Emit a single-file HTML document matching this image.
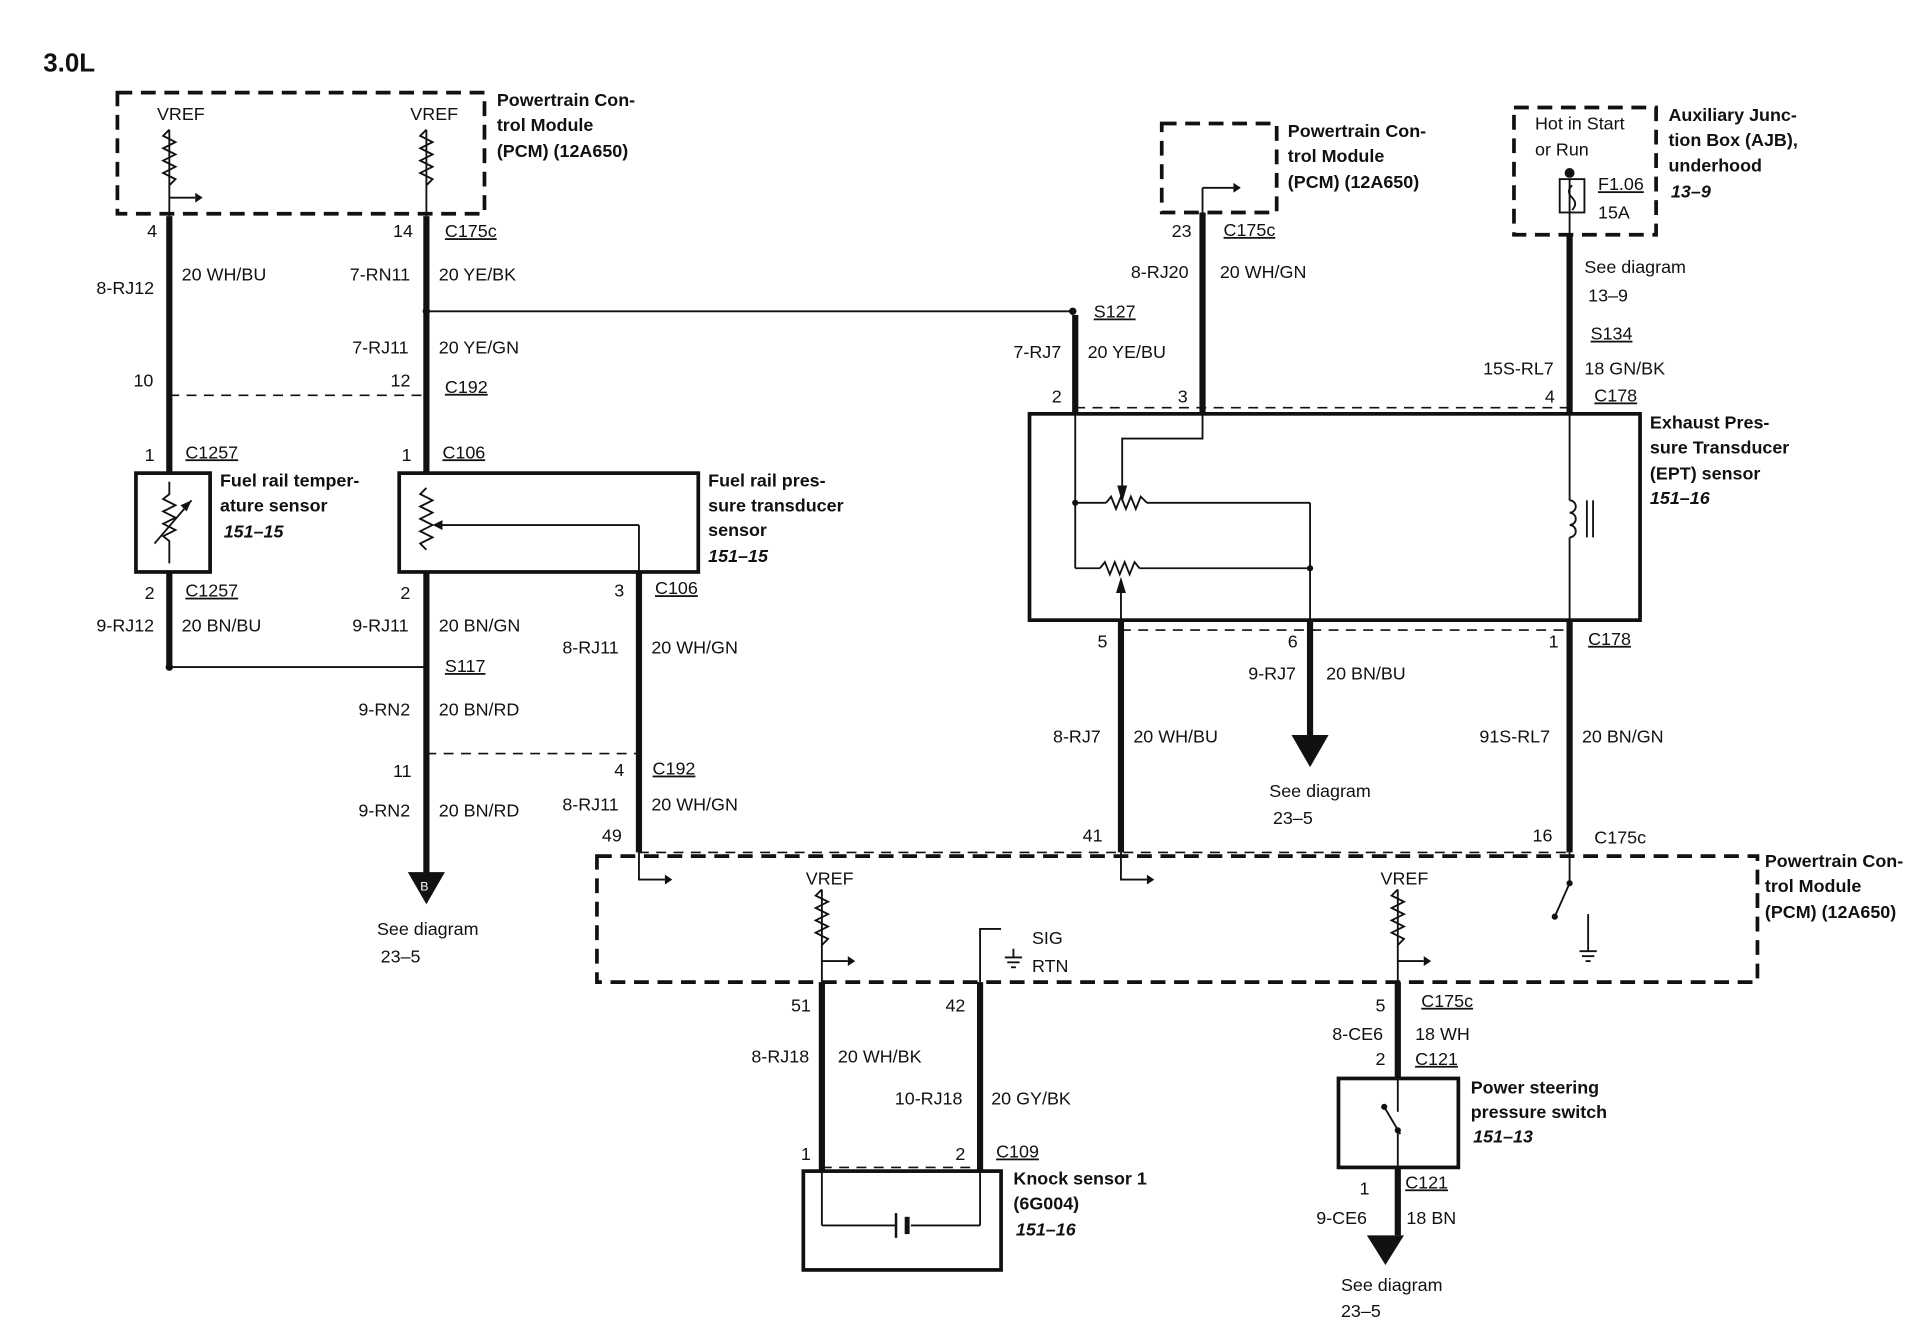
<!DOCTYPE html>
<html><head><meta charset="utf-8"><style>
html,body{margin:0;padding:0;background:#fff}
svg{display:block}
text{font-family:"Liberation Sans",Arial,sans-serif;font-size:14.5px;fill:#111}
.b{font-weight:bold}
.i{font-weight:bold;font-style:italic}
.u{text-decoration:underline}
</style></head><body>
<svg width="1928" height="1328" viewBox="0 0 1560 1075" preserveAspectRatio="none" xmlns="http://www.w3.org/2000/svg">
<g fill="none" stroke="#111">
<g stroke-width="3" stroke-dasharray="12,7">
<rect x="95" y="75" width="297" height="98"/>
<rect x="940" y="100" width="93" height="72"/>
<rect x="1225" y="87" width="115" height="103"/>
<rect x="483" y="693" width="939" height="102"/>
</g>
<g stroke-width="1.3" stroke-dasharray="8,6">
<line x1="137" y1="320" x2="345" y2="320"/>
<line x1="345" y1="610" x2="517" y2="610"/>
<line x1="517" y1="690" x2="1270" y2="690"/>
<line x1="870" y1="330" x2="1270" y2="330"/>
<line x1="907" y1="510" x2="1270" y2="510"/>
<line x1="665" y1="945" x2="793" y2="945"/>
</g>
<g stroke-width="5">
<line x1="137" y1="175" x2="137" y2="383"/>
<line x1="345" y1="175" x2="345" y2="383"/>
<line x1="137" y1="463" x2="137" y2="540"/>
<line x1="345" y1="463" x2="345" y2="708"/>
<line x1="517" y1="463" x2="517" y2="690"/>
<line x1="973" y1="172" x2="973" y2="335"/>
<line x1="870" y1="255" x2="870" y2="335"/>
<line x1="1270" y1="190" x2="1270" y2="335"/>
<line x1="907" y1="502" x2="907" y2="690"/>
<line x1="1060" y1="502" x2="1060" y2="597"/>
<line x1="1270" y1="502" x2="1270" y2="690"/>
<line x1="665" y1="795" x2="665" y2="948"/>
<line x1="793" y1="795" x2="793" y2="948"/>
<line x1="1131" y1="795" x2="1131" y2="873"/>
<line x1="1131" y1="945" x2="1131" y2="1000"/>
</g>
<g stroke-width="1.5">
<line x1="137" y1="105" x2="137" y2="175"/>
<line x1="345" y1="105" x2="345" y2="175"/>
<line x1="137" y1="160" x2="158" y2="160"/>
<line x1="345" y1="252" x2="868" y2="252"/>
<line x1="137" y1="540" x2="345" y2="540"/>
<line x1="517" y1="425" x2="517" y2="463"/>
<line x1="355" y1="425" x2="517" y2="425"/>
<line x1="973" y1="172" x2="973" y2="152"/><line x1="973" y1="152" x2="998" y2="152"/>
<line x1="1270" y1="145" x2="1270" y2="190"/>
<line x1="870" y1="335" x2="870" y2="460"/>
<line x1="870" y1="407" x2="895" y2="407"/><line x1="928" y1="407" x2="1060" y2="407"/><line x1="1060" y1="407" x2="1060" y2="502"/>
<line x1="870" y1="460" x2="890" y2="460"/><line x1="922" y1="460" x2="1060" y2="460"/>
<polyline points="973,335 973,355 908,355 908,398"/>
<line x1="907" y1="502" x2="907" y2="470"/>
<line x1="1270" y1="335" x2="1270" y2="405"/><line x1="1270" y1="435" x2="1270" y2="502"/>
<line x1="1284" y1="405" x2="1284" y2="435"/><line x1="1289" y1="405" x2="1289" y2="435"/>
<polyline points="517,690 517,712 538,712"/>
<polyline points="907,690 907,712 928,712"/>
<line x1="665" y1="720" x2="665" y2="795"/><polyline points="665,778 686,778"/>
<line x1="1131" y1="720" x2="1131" y2="795"/><polyline points="1131,778 1152,778"/>
<polyline points="793,795 793,752 810,752"/>
<line x1="1270" y1="690" x2="1270" y2="715"/><line x1="1270" y1="715" x2="1258" y2="742"/>
<line x1="1285" y1="740" x2="1285" y2="770"/>
<line x1="665" y1="948" x2="665" y2="992"/><line x1="665" y1="992" x2="725" y2="992"/><line x1="737" y1="992" x2="793" y2="992"/><line x1="793" y1="992" x2="793" y2="948"/>
<line x1="1131" y1="873" x2="1131" y2="900"/><line x1="1131" y1="915" x2="1131" y2="945"/><line x1="1120" y1="896" x2="1133" y2="918"/>
</g>
<g stroke-width="1.5">
<polyline points="137,105 132,110 142,115 132,120 142,125 132,130 142,135 132,140 142,145 137,150"/>
<polyline points="345,105 340,110 350,115 340,120 350,125 340,130 350,135 340,140 350,145 345,150"/>
<polyline points="345,395 340,400 350,405 340,410 350,415 340,420 350,425 340,430 350,435 340,440 345,445"/>
<polyline points="137,390 137,400 132,404 142,409 132,414 142,419 132,424 142,429 132,434 137,438 137,456"/>
<polyline points="665,720 660,725 670,730 660,735 670,740 660,745 670,750 660,755 670,760 665,765"/>
<polyline points="1131,720 1126,725 1136,730 1126,735 1136,740 1126,745 1136,750 1126,755 1136,760 1131,765"/>
<polyline points="895,407 899,402 903,412 907,402 911,412 915,402 919,412 923,402 928,407"/>
<polyline points="890,460 894,455 898,465 902,455 906,465 910,455 914,465 918,455 922,460"/>
<path d="M1270 405 a5 5 0 0 1 0 10 a5 5 0 0 1 0 10 a5 5 0 0 1 0 10"/>
<line x1="125" y1="440" x2="155" y2="405"/>
<rect x="1262" y="145" width="20" height="27"/>
<path d="M1272 150 q-5 5 0 10 q5 5 0 10"/>
<line x1="725" y1="982" x2="725" y2="1002" stroke-width="2"/><line x1="734" y1="985" x2="734" y2="999" stroke-width="4"/>
</g>
<g stroke-width="3">
<rect x="110" y="383" width="60" height="80"/>
<rect x="323" y="383" width="242" height="80"/>
<rect x="833" y="335" width="494" height="167"/>
<rect x="650" y="948" width="160" height="80"/>
<rect x="1083" y="873" width="97" height="72"/>
</g>
<g fill="#111" stroke="none">
<polygon points="155,405 146,409 151,414"/>
<polygon points="350,425 358,421 358,429"/>
<polygon points="158,156 158,164 164,160"/>
<polygon points="998,148 998,156 1004,152"/>
<polygon points="538,708 538,716 544,712"/>
<polygon points="928,708 928,716 934,712"/>
<polygon points="686,774 686,782 692,778"/>
<polygon points="1152,774 1152,782 1158,778"/>
<polygon points="908,407 904,393 912,393"/>
<polygon points="907,467 903,480 911,480"/>
<polygon points="330,706 360,706 345,732"/>
<polygon points="1045,595 1075,595 1060,621"/>
<polygon points="1106,1000 1136,1000 1121,1024"/>
<circle cx="137" cy="540" r="3"/><circle cx="345" cy="252" r="3"/><circle cx="868" cy="252" r="3"/><circle cx="1270" cy="140" r="4"/>
<circle cx="1258" cy="742" r="2.5"/><circle cx="1270" cy="715" r="2.5"/>
<circle cx="1120" cy="896" r="2.5"/><circle cx="1131" cy="915" r="2.5"/>
<circle cx="870" cy="407" r="2.5"/><circle cx="1060" cy="460" r="2.5"/>
</g>
<g stroke-width="1.5">
<line x1="813" y1="775" x2="827" y2="775"/><line x1="815" y1="779" x2="825" y2="779"/><line x1="818" y1="783" x2="822" y2="783"/><line x1="820" y1="768" x2="820" y2="775"/>
<line x1="1278" y1="770" x2="1292" y2="770"/><line x1="1280" y1="774" x2="1290" y2="774"/><line x1="1283" y1="778" x2="1287" y2="778"/>
</g>
</g>
<text x="35" y="58" class="b" style="font-size:21px">3.0L</text>
<text x="127" y="97">VREF</text><text x="332" y="97">VREF</text>
<text x="402" y="86" class="b">Powertrain Con-</text><text x="402" y="106" class="b">trol Module</text><text x="402" y="127" class="b">(PCM) (12A650)</text>
<text x="119" y="192">4</text><text x="318" y="192">14</text><text x="360" y="192" class="u">C175c</text>
<text x="78" y="238">8-RJ12</text><text x="147" y="227">20 WH/BU</text><text x="283" y="227">7-RN11</text><text x="355" y="227">20 YE/BK</text>
<text x="285" y="286">7-RJ11</text><text x="355" y="286">20 YE/GN</text>
<text x="108" y="313">10</text><text x="316" y="313">12</text><text x="360" y="318" class="u">C192</text>
<text x="117" y="373">1</text><text x="150" y="371" class="u">C1257</text><text x="325" y="373">1</text><text x="358" y="371" class="u">C106</text>
<text x="178" y="394" class="b">Fuel rail temper-</text><text x="178" y="414" class="b">ature sensor</text><text x="181" y="435" class="i">151–15</text>
<text x="573" y="394" class="b">Fuel rail pres-</text><text x="573" y="414" class="b">sure transducer</text><text x="573" y="434" class="b">sensor</text><text x="573" y="455" class="i">151–15</text>
<text x="117" y="485">2</text><text x="150" y="483" class="u">C1257</text><text x="324" y="485">2</text><text x="497" y="483">3</text><text x="530" y="481" class="u">C106</text>
<text x="78" y="511">9-RJ12</text><text x="147" y="511">20 BN/BU</text><text x="285" y="511">9-RJ11</text><text x="355" y="511">20 BN/GN</text>
<text x="455" y="529">8-RJ11</text><text x="527" y="529">20 WH/GN</text>
<text x="360" y="544" class="u">S117</text>
<text x="290" y="579">9-RN2</text><text x="355" y="579">20 BN/RD</text>
<text x="318" y="629">11</text><text x="497" y="628">4</text><text x="528" y="627" class="u">C192</text>
<text x="290" y="661">9-RN2</text><text x="355" y="661">20 BN/RD</text><text x="455" y="656">8-RJ11</text><text x="527" y="656">20 WH/GN</text>
<text x="487" y="681">49</text>
<text x="340" y="721" style="font-size:10px;fill:#fff">B</text>
<text x="305" y="757">See diagram</text><text x="308" y="779">23–5</text>
<text x="1042" y="111" class="b">Powertrain Con-</text><text x="1042" y="131" class="b">trol Module</text><text x="1042" y="152" class="b">(PCM) (12A650)</text>
<text x="1242" y="105">Hot in Start</text><text x="1242" y="126">or Run</text>
<text x="1293" y="154" class="u">F1.06</text><text x="1293" y="177">15A</text>
<text x="1350" y="98" class="b">Auxiliary Junc-</text><text x="1350" y="118" class="b">tion Box (AJB),</text><text x="1350" y="139" class="b">underhood</text><text x="1352" y="160" class="i">13–9</text>
<text x="948" y="192">23</text><text x="990" y="191" class="u">C175c</text>
<text x="915" y="225">8-RJ20</text><text x="987" y="225">20 WH/GN</text>
<text x="1282" y="221">See diagram</text><text x="1285" y="244">13–9</text>
<text x="885" y="257" class="u">S127</text><text x="1287" y="275" class="u">S134</text>
<text x="820" y="290">7-RJ7</text><text x="880" y="290">20 YE/BU</text>
<text x="1200" y="303">15S-RL7</text><text x="1282" y="303">18 GN/BK</text>
<text x="851" y="326">2</text><text x="953" y="326">3</text><text x="1250" y="326">4</text><text x="1290" y="325" class="u">C178</text>
<text x="1335" y="347" class="b">Exhaust Pres-</text><text x="1335" y="367" class="b">sure Transducer</text><text x="1335" y="388" class="b">(EPT) sensor</text><text x="1335" y="408" class="i">151–16</text>
<text x="888" y="524">5</text><text x="1042" y="524">6</text><text x="1253" y="524">1</text><text x="1285" y="522" class="u">C178</text>
<text x="1010" y="550">9-RJ7</text><text x="1073" y="550">20 BN/BU</text>
<text x="852" y="601">8-RJ7</text><text x="917" y="601">20 WH/BU</text><text x="1197" y="601">91S-RL7</text><text x="1280" y="601">20 BN/GN</text>
<text x="1027" y="645">See diagram</text><text x="1030" y="667">23–5</text>
<text x="876" y="681">41</text><text x="1240" y="681">16</text><text x="1290" y="683">C175c</text>
<text x="1428" y="702" class="b">Powertrain Con-</text><text x="1428" y="722" class="b">trol Module</text><text x="1428" y="743" class="b">(PCM) (12A650)</text>
<text x="652" y="716">VREF</text><text x="1117" y="716">VREF</text>
<text x="835" y="764">SIG</text><text x="835" y="787">RTN</text>
<text x="640" y="819">51</text><text x="765" y="819">42</text><text x="1113" y="819">5</text><text x="1150" y="815" class="u">C175c</text>
<text x="1078" y="842">8-CE6</text><text x="1145" y="842">18 WH</text>
<text x="608" y="860">8-RJ18</text><text x="678" y="860">20 WH/BK</text>
<text x="1113" y="862">2</text><text x="1145" y="862" class="u">C121</text>
<text x="1190" y="885" class="b">Power steering</text><text x="1190" y="905" class="b">pressure switch</text><text x="1192" y="925" class="i">151–13</text>
<text x="724" y="894">10-RJ18</text><text x="802" y="894">20 GY/BK</text>
<text x="648" y="939">1</text><text x="773" y="939">2</text><text x="806" y="937" class="u">C109</text>
<text x="820" y="959" class="b">Knock sensor 1</text><text x="820" y="979" class="b">(6G004)</text><text x="822" y="1000" class="i">151–16</text>
<text x="1100" y="967">1</text><text x="1137" y="962" class="u">C121</text>
<text x="1065" y="991">9-CE6</text><text x="1138" y="991">18 BN</text>
<text x="1085" y="1045">See diagram</text><text x="1085" y="1066">23–5</text>
</svg>
</body></html>
